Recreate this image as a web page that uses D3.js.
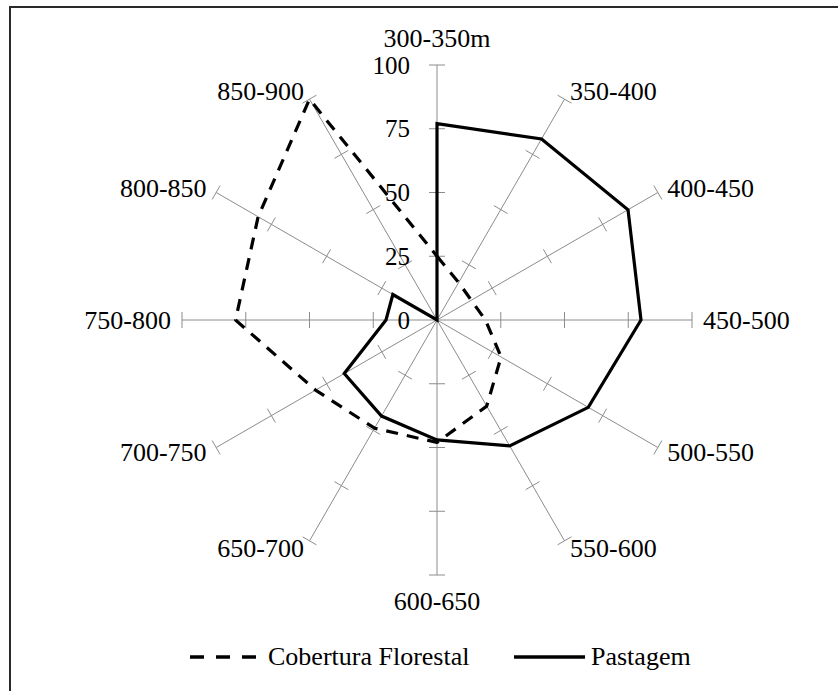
<!DOCTYPE html>
<html>
<head>
<meta charset="utf-8">
<script src="https://cdn.jsdelivr.net/npm/d3@7"></script>
<style>
  html, body { margin: 0; padding: 0; background: #fff; }
  svg { display: block; }
  text { font-family: "Liberation Serif", "Times New Roman", serif; fill: #000; }
</style>
</head>
<body>
<svg id="chart" width="838" height="691"></svg>
<script>
const categories = ["300-350m","350-400","400-450","450-500","500-550","550-600","600-650","650-700","700-750","750-800","800-850","850-900"];
const coberturaFlorestal = [25, 17, 15.5, 19, 29, 39, 48, 49, 55, 79, 81, 100];
const pastagem = [77, 82, 86.5, 80, 68.5, 57, 47, 43.5, 42, 20, 20, 0];
const tickValues = [0, 25, 50, 75, 100];
const seriesNames = ["Cobertura Florestal", "Pastagem"];

const svg = d3.select("#chart");
const cx = 437, cy = 320, R = 255;

// frame
svg.append("rect").attr("x", 10).attr("y", 7).attr("width", 900).attr("height", 800)
  .attr("fill", "none").attr("stroke", "#2a2a2a").attr("stroke-width", 2);

const r = d3.scaleLinear().domain([0, 100]).range([0, R]);
const ang = d3.scaleLinear().domain([0, categories.length]).range([0, 2 * Math.PI]);
const px = (i, v) => cx + r(v) * Math.sin(ang(i));
const py = (i, v) => cy - r(v) * Math.cos(ang(i));

const g = svg.append("g");

// spokes
categories.forEach((c, i) => {
  g.append("line")
    .attr("x1", cx).attr("y1", cy)
    .attr("x2", px(i, 100)).attr("y2", py(i, 100))
    .attr("stroke", "#8c8c8c").attr("stroke-width", 1);
  tickValues.filter(t => t > 0).forEach(t => {
    const a = ang(i), x = px(i, t), y = py(i, t);
    const dx = Math.cos(a) * 8, dy = Math.sin(a) * 8;
    g.append("line")
      .attr("x1", x - dx).attr("y1", y - dy)
      .attr("x2", x + dx).attr("y2", y + dy)
      .attr("stroke", "#8c8c8c").attr("stroke-width", 1);
  });
});

// tick labels
tickValues.forEach(t => {
  g.append("text")
    .attr("x", cx - 27).attr("y", py(0, t))
    .attr("text-anchor", "end")
    .attr("dominant-baseline", "central")
    .attr("font-size", 25)
    .text(t);
});

// category labels
categories.forEach((c, i) => {
  const a = ang(i);
  const s = Math.sin(a), co = Math.cos(a);
  let x, y, anchor;
  if (Math.abs(s) < 1e-6) {
    anchor = "middle";
    x = cx;
    y = co > 0 ? cy - R - 27 : cy + R + 26;
  } else {
    anchor = s > 0 ? "start" : "end";
    x = cx + (R + 11) * s;
    y = cy - (R + 9) * co;
  }
  g.append("text")
    .attr("x", x).attr("y", y)
    .attr("text-anchor", anchor)
    .attr("dominant-baseline", "central")
    .attr("font-size", 26)
    .text(c);
});

// series
const line = d3.lineRadial()
  .angle((d, i) => ang(i))
  .radius(d => r(d))
  .curve(d3.curveLinearClosed);

const seriesG = svg.append("g").attr("transform", `translate(${cx},${cy})`);
seriesG.append("path")
  .attr("d", line(coberturaFlorestal))
  .attr("fill", "none").attr("stroke", "#000").attr("stroke-width", 3.2)
  .attr("stroke-dasharray", "12,9").attr("stroke-linejoin", "round");
seriesG.append("path")
  .attr("d", line(pastagem))
  .attr("fill", "none").attr("stroke", "#000").attr("stroke-width", 3.2)
  .attr("stroke-linejoin", "miter");

// legend
const legend = svg.append("g");
legend.append("line").attr("x1", 190).attr("x2", 258).attr("y1", 657).attr("y2", 657)
  .attr("stroke", "#000").attr("stroke-width", 3.5).attr("stroke-dasharray", "14,12");
legend.append("text").attr("x", 268).attr("y", 656).attr("dominant-baseline", "central")
  .attr("font-size", 26).text(seriesNames[0]);
legend.append("line").attr("x1", 514).attr("x2", 585).attr("y1", 657).attr("y2", 657)
  .attr("stroke", "#000").attr("stroke-width", 3.5);
legend.append("text").attr("x", 591).attr("y", 656).attr("dominant-baseline", "central")
  .attr("font-size", 26).text(seriesNames[1]);
</script>
</body>
</html>
